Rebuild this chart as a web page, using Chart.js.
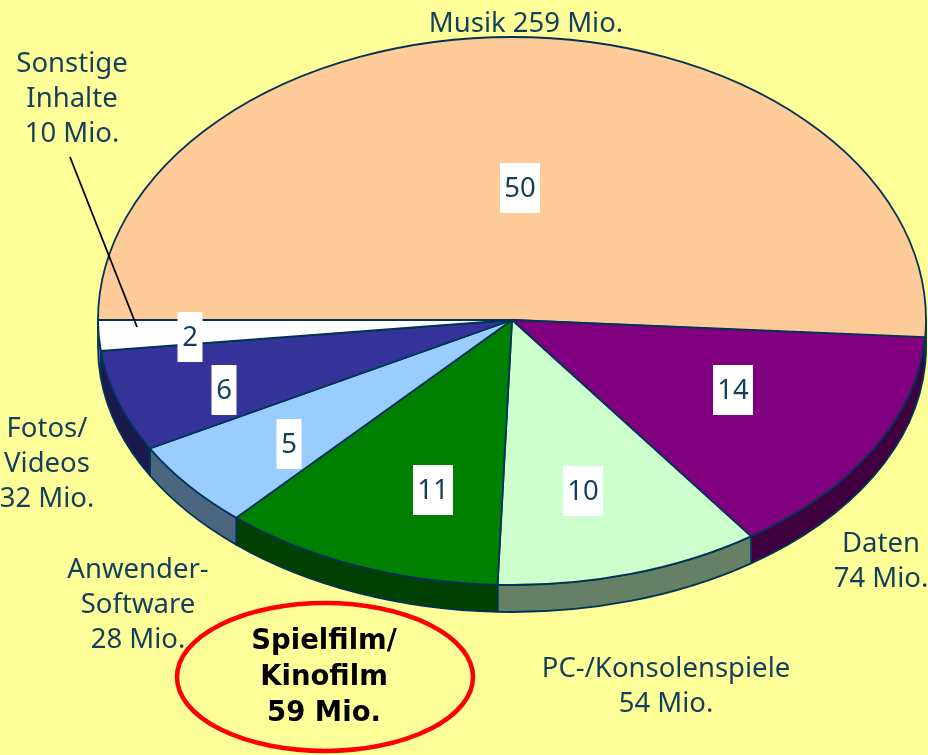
<!DOCTYPE html>
<html>
<head>
<meta charset="utf-8">
<style>
html,body{margin:0;padding:0;background:#FFFF99;}
canvas{display:block;}
</style>
<script src="https://cdn.jsdelivr.net/npm/chart.js@4"></script>
</head>
<body>
<canvas id="c" width="928" height="755"></canvas>
<script>
const categories = ["Musik","Daten","PC-/Konsolenspiele","Spielfilm/Kinofilm","Anwender-Software","Fotos/Videos","Sonstige Inhalte"];
const valuesMio = [259,74,54,59,28,32,10];
const percentLabels = ["50","14","10","11","5","6","2"];
const faceColors = ["#FFCC99","#800080","#CCFFCC","#008000","#99CCFF","#333399","#FFFFFF"];
const wallColors = ["#806650","#400040","#668066","#004000","#4D6680","#1A1A4D","#808080"];

const FONT = '"Noto Sans", sans-serif';
const INK = "#123F5C";
const EDGE = "#003355";
// projection of the tilted 3D pie: radii, wall height, perspective shift (degrees) of each slice's end
const view = {rx:414, ryFront:265, ryBack:283, depth:27, endShiftDeg:[3,2.4,2,0.6,0.3,0.3,0]};
const percentAnchors = [[520,188],[733,390],[583,491],[433,490],[289,444],[224,390],[190,337]];
const outerLabels = [
  {x:526,y:24,lines:["Musik 259 Mio."]},
  {x:72,y:64,lines:["Sonstige","Inhalte","10 Mio."]},
  {x:47,y:429,lines:["Fotos/","Videos","32 Mio."]},
  {x:138,y:570,lines:["Anwender-","Software","28 Mio."]},
  {x:881,y:544,lines:["Daten","74 Mio."]},
  {x:666,y:669,lines:["PC-/Konsolenspiele","54 Mio."]}
];
const highlight = {x:324,y:642,lines:["Spielfilm/","Kinofilm","59 Mio."]};

function sectorPath(ctx, arc, ry){
  const r = arc.outerRadius;
  ctx.save();
  ctx.translate(arc.x, arc.y);
  ctx.scale(view.rx/r, ry/r);
  ctx.beginPath();
  ctx.moveTo(0,0);
  ctx.arc(0,0,r,arc.startAngle,arc.endAngle);
  ctx.closePath();
  ctx.restore();
}
function wallPath(ctx, arc, ry){
  const r = arc.outerRadius;
  const a0 = Math.max(arc.startAngle,0), a1 = Math.min(arc.endAngle,Math.PI);
  if (a1 <= a0) return false;
  const sx = view.rx/r, sy = ry/r;
  ctx.save();
  ctx.translate(arc.x, arc.y);
  ctx.scale(sx, sy);
  ctx.beginPath();
  ctx.arc(0,0,r,a0,a1);
  ctx.arc(0,view.depth/sy,r,a1,a0,true);
  ctx.closePath();
  ctx.restore();
  return true;
}
const squashedPie = {
  id:"squashedPie",
  afterDatasetsUpdate(chart){
    const toRad = Math.PI/180;
    chart.getDatasetMeta(0).data.forEach((arc,i)=>{
      const s0 = i ? view.endShiftDeg[i-1] : 0;
      arc.startAngle += s0*toRad;
      arc.endAngle += view.endShiftDeg[i]*toRad;
      arc.circumference = arc.endAngle-arc.startAngle;
    });
  },
  beforeDraw(chart){
    const ctx = chart.ctx;
    ctx.save();
    ctx.fillStyle = "#FFFF99";
    ctx.fillRect(0,0,chart.width,chart.height);
    ctx.restore();
  },
  beforeDatasetsDraw(chart){
    const ctx = chart.ctx;
    const arcs = chart.getDatasetMeta(0).data;
    ctx.save();
    ctx.lineJoin = "round";
    ctx.strokeStyle = EDGE;
    ctx.lineWidth = 1.8;
    arcs.forEach((arc,i)=>{
      if (wallPath(ctx,arc,view.ryFront)) {
        ctx.fillStyle = wallColors[i];
        ctx.fill();
        ctx.stroke();
      }
    });
    arcs.forEach((arc,i)=>{
      const r = arc.outerRadius;
      const ry = i===0 ? view.ryBack : view.ryFront;
      ctx.save();
      ctx.translate(arc.x,arc.y);
      ctx.scale(view.rx/r, ry/r);
      ctx.translate(-arc.x,-arc.y);
      arc.draw(ctx);
      ctx.restore();
      sectorPath(ctx,arc,ry);
      ctx.stroke();
    });
    ctx.restore();

    // leader line for the smallest slice
    ctx.save();
    ctx.strokeStyle = "#000";
    ctx.lineWidth = 1.8;
    ctx.beginPath();
    ctx.moveTo(70,157);
    ctx.lineTo(137,327);
    ctx.stroke();
    ctx.restore();

    // percent labels on white boxes
    ctx.save();
    ctx.font = "27.5px "+FONT;
    ctx.textAlign = "center";
    ctx.textBaseline = "middle";
    percentLabels.forEach((t,i)=>{
      const [x,y] = percentAnchors[i];
      const w = t.length>1 ? 40 : 25;
      ctx.fillStyle = "#FFF";
      ctx.fillRect(x-w/2,y-25,w,50);
      ctx.fillStyle = INK;
      ctx.fillText(t,x,y+1);
    });
    // outer labels
    outerLabels.forEach(l=>{
      l.lines.forEach((t,k)=>ctx.fillText(t,l.x,l.y+k*35));
    });
    ctx.font = 'bold 27.5px "DejaVu Sans", sans-serif';
    ctx.fillStyle = "#000";
    highlight.lines.forEach((t,k)=>ctx.fillText(t,highlight.x,highlight.y+k*36));
    // red ring
    ctx.strokeStyle = "#FF0000";
    ctx.lineWidth = 4.5;
    ctx.beginPath();
    ctx.ellipse(325,677,148,74,0,0,Math.PI*2);
    ctx.stroke();
    ctx.restore();
    return false;
  }
};
new Chart(document.getElementById("c"),{
  type:"pie",
  data:{labels:categories,datasets:[{data:valuesMio,backgroundColor:faceColors,borderWidth:0}]},
  options:{
    responsive:false,
    animation:false,
    rotation:-90,
    layout:{padding:{left:96,right:0,top:0,bottom:115}},
    plugins:{legend:{display:false},tooltip:{enabled:false}}
  },
  plugins:[squashedPie]
});
</script>
</body>
</html>
